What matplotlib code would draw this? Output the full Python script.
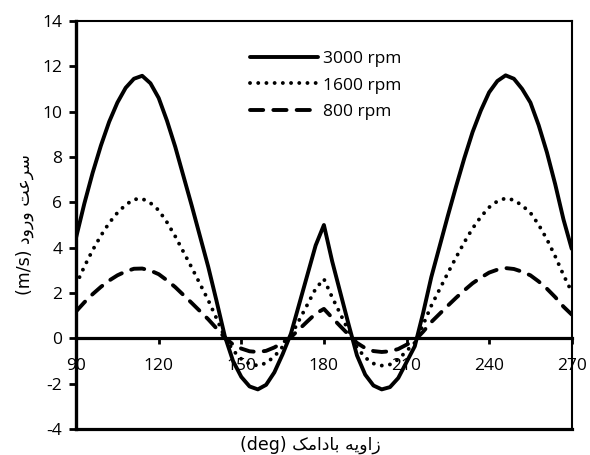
import matplotlib
matplotlib.use('Agg')
import matplotlib.pyplot as plt
import numpy as np

# cam angle (deg) and inlet velocity (m/s)
angle = list(range(90, 271, 3))

v3000 = [4.45, 5.95, 7.3, 8.5, 9.55, 10.4, 11.05, 11.45, 11.58, 11.25,
         10.6, 9.6, 8.45, 7.15, 5.85, 4.5, 3.15, 1.65, 0.1, -1.0,
         -1.7, -2.12, -2.25, -2.05, -1.5, -0.7, 0.2, 1.5, 2.8, 4.1,
         5.0, 3.4, 2.0, 0.6, -0.75, -1.6, -2.08, -2.25, -2.15, -1.75,
         -1.05, -0.35, 1.1, 2.7, 4.05, 5.4, 6.7, 7.95, 9.1, 10.05,
         10.85, 11.35, 11.6, 11.45, 11.0, 10.4, 9.4, 8.2, 6.8, 5.25,
         3.95]

v1600 = [2.37, 3.17, 3.89, 4.53, 5.09, 5.54, 5.89, 6.13, 6.16, 5.97,
         5.65, 5.12, 4.5, 3.81, 3.12, 2.4, 1.68, 0.88, 0.05, -0.53,
         -0.91, -1.13, -1.2, -1.09, -0.8, -0.37, 0.11, 0.8, 1.49, 2.19,
         2.62, 1.81, 1.07, 0.32, -0.4, -0.85, -1.11, -1.2, -1.15, -0.93,
         -0.56, -0.19, 0.59, 1.44, 2.16, 2.88, 3.57, 4.24, 4.85, 5.36,
         5.78, 6.05, 6.18, 6.1, 5.86, 5.54, 5.01, 4.37, 3.62, 2.8,
         2.05]

v800 = [1.19, 1.59, 1.95, 2.27, 2.55, 2.78, 2.95, 3.07, 3.08, 2.99,
        2.83, 2.56, 2.26, 1.91, 1.56, 1.2, 0.84, 0.44, 0.03, -0.27,
        -0.45, -0.57, -0.6, -0.55, -0.4, -0.19, 0.05, 0.4, 0.75, 1.09,
        1.3, 0.91, 0.53, 0.16, -0.2, -0.43, -0.56, -0.6, -0.57, -0.47,
        -0.28, -0.09, 0.29, 0.72, 1.08, 1.44, 1.79, 2.12, 2.43, 2.68,
        2.9, 3.03, 3.1, 3.06, 2.94, 2.78, 2.51, 2.19, 1.82, 1.4,
        1.05]

labels = ['3000 rpm', '1600 rpm', '800 rpm']
xticks = [90, 120, 150, 180, 210, 240, 270]
yticks = list(range(-4, 15, 2))

# Persian labels written in presentation forms (visual order) so they join up
seraat = '\uFE96\uFECB\uFEAE\uFEB3'           # سرعت
vorud = '\uFEA9\uFEED\uFEAD\uFEED'            # ورود
zavie = '\uFEEA\uFBFE\uFEED\uFE8D\uFEAF'      # زاویه
badamak = '\uFB8F\uFEE3\uFE8D\uFEA9\uFE8E\uFE91'  # بادامک
ylabel = '(m/s) ' + vorud + ' ' + seraat
xlabel = '(deg) ' + badamak + ' ' + zavie

plt.rcParams['font.family'] = ['Open Sans', 'DejaVu Sans']
plt.rcParams['axes.unicode_minus'] = False

fig = plt.figure(figsize=(5.9, 4.55), dpi=100)
ax = fig.add_axes([0.129, 0.057, 0.840, 0.897])

ax.plot(angle, v3000, color='black', lw=2.8, solid_capstyle='round',
        solid_joinstyle='round', label=labels[0])
ax.plot(angle, v1600, color='black', lw=2.8, linestyle=(0, (0.01, 2.1)),
        dash_capstyle='round', label=labels[1])
ax.plot(angle, v800, color='black', lw=2.8, linestyle=(0, (3.4, 2.6)),
        dash_capstyle='round', label=labels[2])

ax.set_xlim(90, 270)
ax.set_ylim(-4, 14)

# x axis sits on the zero line, a plain frame line closes the box at the bottom
ax.spines['bottom'].set_position(('data', 0))
ax.spines['bottom'].set_linewidth(2.3)
ax.spines['left'].set_linewidth(2.4)
ax.spines['top'].set_linewidth(1.5)
ax.spines['right'].set_linewidth(1.5)
ax.plot([0, 1], [0, 0], transform=ax.transAxes, color='black', lw=2.3,
        clip_on=False, solid_capstyle='projecting')

ax.set_xticks(xticks)
ax.set_yticks(yticks)
ax.tick_params(axis='x', direction='out', length=4, width=2, pad=10, labelsize=12.5)
ax.tick_params(axis='y', direction='out', length=5, width=2, pad=5, labelsize=12.5)

ax.set_ylabel(ylabel, family=['DejaVu Sans'], fontsize=12.5, labelpad=6)
ax.set_xlabel(xlabel, family=['DejaVu Sans'], fontsize=12.5)
ax.xaxis.set_label_coords(0.472, -0.015)

ax.legend(loc='upper left', bbox_to_anchor=(0.32, 0.966), frameon=False,
          fontsize=12.5, handlelength=3.9, handletextpad=0.3, labelspacing=0.62)

fig.savefig('out.png', dpi=100)
